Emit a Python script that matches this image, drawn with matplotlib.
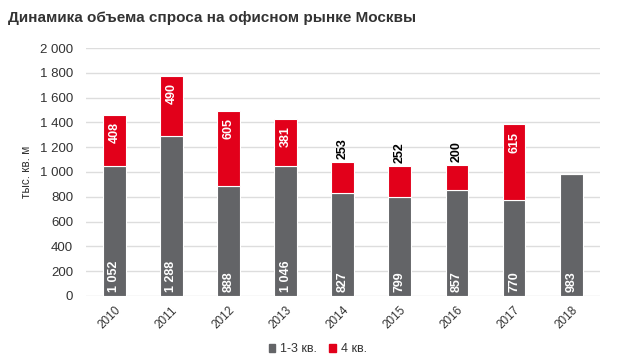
import numpy as np
import matplotlib
matplotlib.use('Agg')
import matplotlib.pyplot as plt
from matplotlib.patches import Patch

# данные
years = ['2010', '2011', '2012', '2013', '2014', '2015', '2016', '2017', '2018']
q13 = [1052, 1288, 888, 1046, 827, 799, 857, 770, 983]
q4 = [408, 490, 605, 381, 253, 252, 200, 615, 0]
q4_outside = [False, False, False, False, True, True, True, False, False]
yticks = [0, 200, 400, 600, 800, 1000, 1200, 1400, 1600, 1800, 2000]

GRAY = '#636467'
RED = '#e2001a'
TXT = '#333333'
plt.rcParams['font.family'] = ['Liberation Sans', 'DejaVu Sans']


def fmt(v):
    return f"{v:,}".replace(',', ' ')


fig = plt.figure(figsize=(6.17, 3.64), dpi=100)
ax = fig.add_axes([0.139, 0.187, 0.833, 0.681])

x = np.arange(len(years))
w = 0.4
ax.bar(x, q13, width=w, color=GRAY, edgecolor='white', linewidth=0.8, zorder=3)
ax.bar(x, q4, bottom=q13, width=w, color=RED, edgecolor='white', linewidth=0.8, zorder=3)

lab = dict(rotation=90, ha='center', fontsize=9, fontweight='bold', zorder=4)
for i in range(len(years)):
    ax.text(x[i], 30, fmt(q13[i]), va='bottom', color='white', **lab)
    if q4[i] == 0:
        continue
    top = q13[i] + q4[i]
    if q4_outside[i]:
        ax.text(x[i], top + 25, fmt(q4[i]), va='bottom', color='black', **lab)
    else:
        ax.text(x[i], top - 60, fmt(q4[i]), va='top', color='white', **lab)

ax.set_xlim(-0.5, len(years) - 0.5)
ax.set_ylim(0, 2000)
ax.set_yticks(yticks)
ax.set_yticklabels([fmt(v) for v in yticks])
ax.set_xticks(x)
ax.set_xticklabels(years, rotation=45, ha='right', rotation_mode='anchor')
ax.tick_params(axis='both', length=0, colors=TXT)
ax.tick_params(axis='y', pad=9, labelsize=9.5)
ax.tick_params(axis='x', pad=6, labelsize=8.5)
ax.grid(axis='y', color='#dddddd', linewidth=1, zorder=0)
for s in ax.spines.values():
    s.set_visible(False)

ax.set_ylabel('тыс. кв. м', fontsize=8.5, color=TXT, labelpad=5)

fig.text(0.013, 0.95, 'Динамика объема спроса на офисном рынке Москвы',
         fontsize=11, fontweight='bold', color=TXT, va='center')

handles = [Patch(color=GRAY, label='1-3 кв.'), Patch(color=RED, label='4 кв.')]
fig.legend(handles=handles, loc='center', bbox_to_anchor=(0.515, 0.04), ncol=2,
           frameon=False, fontsize=9, handlelength=0.5, handleheight=0.5,
           handletextpad=0.4, columnspacing=1.0, labelcolor=TXT)

fig.savefig('out.png', dpi=100)
